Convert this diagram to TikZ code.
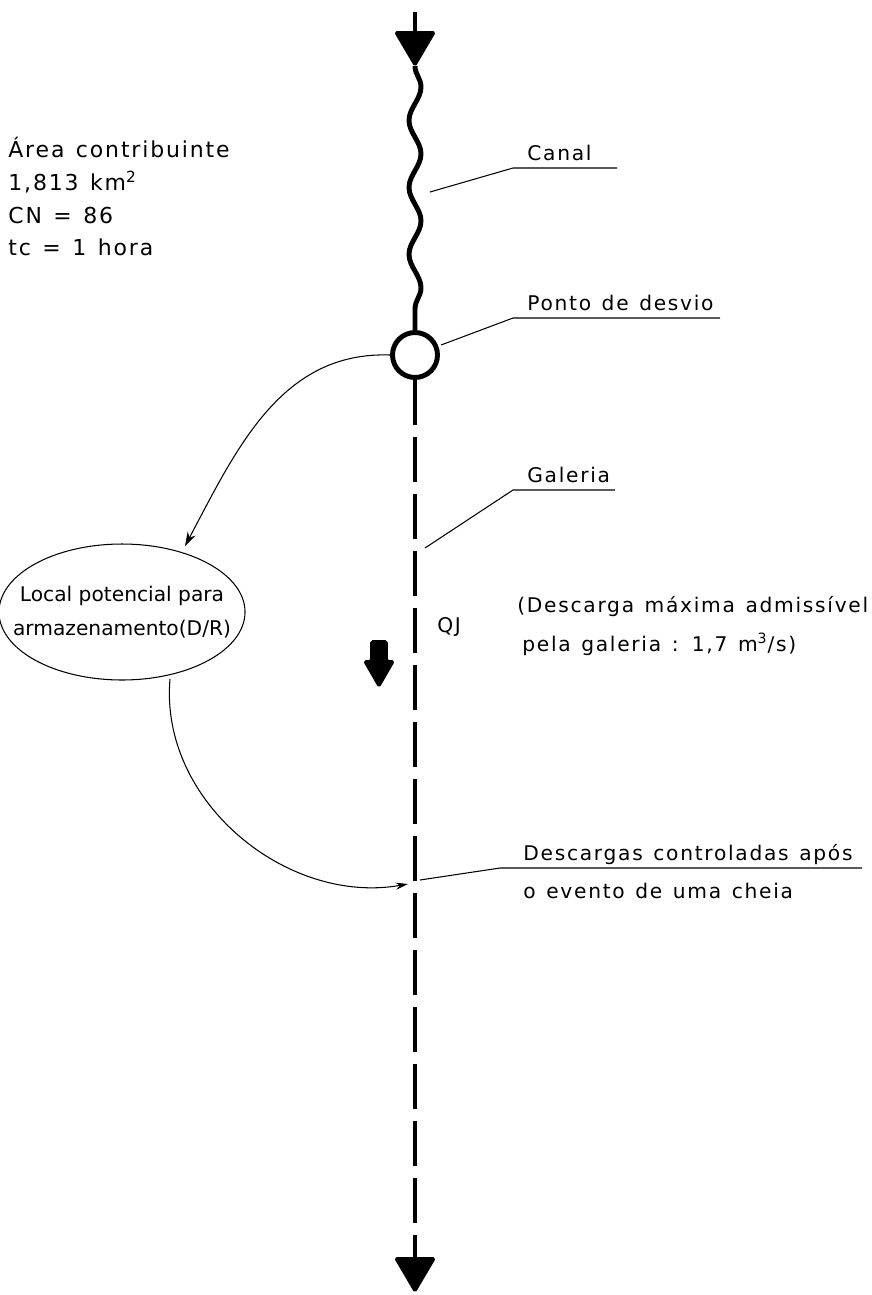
\documentclass[tikz,border=0pt]{standalone}
\usepackage{fontspec}
\setmainfont{DejaVu Sans}[LetterSpace=8.5, WordSpace=1.3]
\newfontfamily\tightfont{DejaVu Sans}[LetterSpace=0.0]
\usepackage{tikz}
\usetikzlibrary{shapes,arrows,positioning,calc,decorations.pathmorphing,arrows.meta}

\begin{document}
\begin{tikzpicture}[x=0.02cm, y=-0.02cm,
    every node/.style={font=\fontsize{11.5}{14}\selectfont},
    txt/.style={anchor=base west, inner sep=0pt},
    leader/.style={line width=0.6pt},
    flow/.style={line width=2.8pt},
    tip/.style={fill=black, draw=black, line width=1pt, line join=round, rounded corners=1pt}]
    \useasboundingbox (0,0) rectangle (872,1295);

    % Canal (wavy) with inlet arrow
    \coordinate (top) at (415,12);
    \coordinate (inlet) at (415,66);
    \draw[flow] (top) -- (415,34);
    \draw[tip] (395,32) -- (435,32) -- (inlet) -- cycle;
    \node[circle, draw, line width=2.8pt, minimum size=0.9cm, inner sep=0pt] (desvio) at (415,355) {};
    \draw[flow, decorate, decoration={snake, segment length=1.34cm, amplitude=0.12cm}] (inlet) -- (desvio.north);

    % Galeria (dashed) with outlet arrow
    \coordinate (outlet) at (415,1258);
    \draw[flow, dash pattern=on 0.9cm off 0.24cm] (desvio.south) -- (outlet);
    \draw[tip] (395,1258) -- (435,1258) -- (415,1292) -- cycle;

    % Block arrow QJ
    \draw[tip] (371,641) -- (387,641) -- (387,661) -- (394,661) -- (379,687) -- (364,661) -- (371,661) -- cycle;
    \node[txt] (qj) at (437,632) {QJ};

    % Storage area
    \node[ellipse, draw, line width=0.6pt, inner xsep=-0.44cm, inner ysep=0.33cm, minimum width=4.66cm,
        minimum height=2.72cm, align=center, font=\tightfont\fontsize{11.5}{19}\selectfont]
        (armaz) at (122,612) {Local potencial para\\armazenamento(D/R)};
    \coordinate (entrada) at (185,546);
    \coordinate (saida) at (170,679);
    \draw[leader, -{Stealth[length=8pt,width=5pt]}] (desvio.west) to[out=178, in=62] (entrada);
    \coordinate (retorno) at (408,884);
    \draw[leader, -{Stealth[length=7pt,width=4pt]}] (saida) to[out=-95, in=190] (retorno);

    % Text on the left
    \foreach \txt/\y in {{\'Area contribuinte}/157, {1,813 km\textsuperscript{2}}/190, {CN = 86}/223, {tc = 1 hora}/255}
        \node[txt, font=\fontsize{12.5}{14}\selectfont] at (8,\y) {\txt};

    % Labels with leaders
    \foreach \name/\from/\y/\len/\lbl in {canal/{430,192}/168/104/Canal, ponto/{441,345}/318/207/Ponto de desvio,
        gal/{425,548}/490/102/Galeria} {
        \coordinate (\name L) at (513,\y);
        \node[txt] (\name) at (527,\y-8) {\lbl};
        \draw[leader] (\from) -- (\name L) -- ++(\len,0);
    }
    \coordinate (descL) at (500,868);
    \node[txt] (desc) at (523,860) {Descargas controladas após};
    \node[txt] (desc2) at (523,898) {o evento de uma cheia};
    \draw[leader] (retorno) ++(12,-4) -- (descL) -- ++(362,0);

    % Max discharge note
    \node[txt] (nota) at (517,612) {(Descarga máxima admissível};
    \node[txt] (nota2) at (522,651) {pela galeria : 1,7 m\textsuperscript{3}/s)};
\end{tikzpicture}
\end{document}
